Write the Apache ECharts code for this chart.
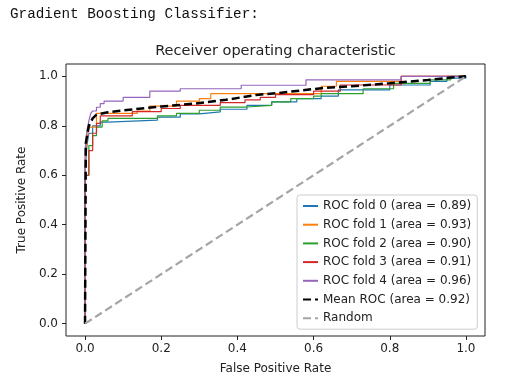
<!DOCTYPE html>
<html>
<head>
<meta charset="utf-8">
<script src="https://cdn.jsdelivr.net/npm/echarts@6/dist/echarts.min.js"></script>
<style>
html,body{margin:0;padding:0;background:#fff;}
#chart{width:515px;height:391px;}
</style>
</head>
<body>
<div id="chart"></div>
<script>
var xTicks = [0, 0.2, 0.4, 0.6, 0.8, 1.0];
var yTicks = [0, 0.2, 0.4, 0.6, 0.8, 1.0];

var foldNames = [
  'ROC fold 0 (area = 0.89)',
  'ROC fold 1 (area = 0.93)',
  'ROC fold 2 (area = 0.90)',
  'ROC fold 3 (area = 0.91)',
  'ROC fold 4 (area = 0.96)'
];
var meanName = 'Mean ROC (area = 0.92)';
var randomName = 'Random';

var fold0 = [[0,0],[0,0.62],[0.005,0.72],[0.01,0.77],[0.02,0.80],[0.04,0.815],[0.06,0.823],[0.19,0.835],[0.25,0.848],[0.30,0.856],[0.355,0.867],[0.425,0.883],[0.49,0.897],[0.556,0.91],[0.62,0.92],[0.665,0.945],[0.80,0.965],[0.906,0.98],[0.95,0.993],[1.0,1.0]];
var fold1 = [[0,0],[0,0.65],[0.005,0.74],[0.01,0.795],[0.03,0.85],[0.137,0.86],[0.17,0.88],[0.24,0.90],[0.30,0.91],[0.33,0.93],[0.62,0.96],[0.66,0.98],[0.83,1.0],[1.0,1.0]];
var fold2 = [[0,0],[0,0.60],[0.01,0.72],[0.02,0.76],[0.03,0.795],[0.045,0.82],[0.06,0.83],[0.19,0.84],[0.24,0.85],[0.30,0.863],[0.355,0.876],[0.425,0.883],[0.49,0.897],[0.54,0.91],[0.60,0.92],[0.62,0.93],[0.73,0.95],[0.81,0.972],[0.906,0.986],[0.96,1.0],[1.0,1.0]];
var fold3 = [[0,0],[0,0.60],[0.01,0.70],[0.02,0.77],[0.03,0.81],[0.04,0.84],[0.124,0.857],[0.20,0.87],[0.25,0.883],[0.355,0.894],[0.42,0.905],[0.46,0.915],[0.50,0.926],[0.60,0.94],[0.67,0.965],[0.83,1.0],[1.0,1.0]];
var fold4 = [[0,0],[0,0.70],[0.005,0.78],[0.01,0.82],[0.015,0.85],[0.02,0.86],[0.03,0.875],[0.04,0.89],[0.05,0.90],[0.10,0.915],[0.17,0.94],[0.25,0.95],[0.41,0.964],[0.58,0.986],[0.83,1.0],[1.0,1.0]];
var meanRoc = [[0,0],[0.002,0.73],[0.01,0.80],[0.02,0.83],[0.03,0.845],[0.06,0.855],[0.11,0.864],[0.20,0.878],[0.29,0.89],[0.37,0.905],[0.41,0.915],[0.45,0.925],[0.51,0.933],[0.62,0.952],[0.70,0.96],[0.80,0.972],[0.90,0.985],[0.96,0.995],[1.0,1.0]];
var randomLine = [[0,0],[1,1]];

var foldColors = ['#1f77b4','#ff7f0e','#2ca02c','#d62728','#9467bd'];
var folds = [fold0, fold1, fold2, fold3, fold4];

var chart = echarts.init(document.getElementById('chart'), null, {renderer:'canvas'});
var FONT = 'DejaVu Sans';

var series = [];
folds.forEach(function(d, i){
  series.push({
    name: foldNames[i], type:'line', data:d, step:'end',
    symbol:'none', showSymbol:false, animation:false,
    lineStyle:{color:foldColors[i], width:1.2},
    itemStyle:{color:foldColors[i]}
  });
});
series.push({
  name: meanName, type:'line', data:meanRoc, symbol:'none', showSymbol:false, animation:false,
  lineStyle:{color:'#000', width:2.5, type:[8,4]}, itemStyle:{color:'#000'}
});
series.push({
  name: randomName, type:'line', data:randomLine, symbol:'none', showSymbol:false, animation:false,
  lineStyle:{color:'#a5a5a5', width:2.2, type:[8,4]}, itemStyle:{color:'#a5a5a5'}
});

var fmt = function(v){ return Number(v).toFixed(1); };

chart.setOption({
  backgroundColor:'#fff',
  animation:false,
  grid:{left:66, right:30, top:64, bottom:55, show:true, borderColor:'#222', borderWidth:1, backgroundColor:'transparent'},
  xAxis:{
    type:'value', min:-0.05, max:1.05,
    name:'False Positive Rate', nameLocation:'middle', nameGap:27,
    nameTextStyle:{fontFamily:FONT, fontSize:12, color:'#222', verticalAlign:'top'},
    axisLine:{show:false, onZero:false},
    axisTick:{show:true, inside:false, length:4, lineStyle:{color:'#222'}, customValues:xTicks},
    axisLabel:{fontFamily:FONT, fontSize:12, color:'#222', margin:7, customValues:xTicks, formatter:fmt},
    splitLine:{show:false}
  },
  yAxis:{
    type:'value', min:-0.05, max:1.05,
    name:'True Positive Rate', nameLocation:'middle', nameGap:38, nameRotate:90,
    nameTextStyle:{fontFamily:FONT, fontSize:12, color:'#222'},
    axisLine:{show:false, onZero:false},
    axisTick:{show:true, inside:false, length:4, lineStyle:{color:'#222'}, customValues:yTicks},
    axisLabel:{fontFamily:FONT, fontSize:12, color:'#222', margin:8, customValues:yTicks, formatter:fmt},
    splitLine:{show:false}
  },
  legend:{
    orient:'vertical', left:297, top:195,
    padding:[5,6,5,5], itemGap:6.7, itemWidth:15, itemHeight:12,
    backgroundColor:'rgba(255,255,255,0.85)', borderColor:'#ccc', borderWidth:1, borderRadius:3,
    textStyle:{fontFamily:FONT, fontSize:12, color:'#222'},
    itemStyle:{opacity:0},
    data: foldNames.concat([meanName, randomName])
  },
  graphic:[
    {type:'text', left:10, top:7, style:{text:'Gradient Boosting Classifier:', font:'14.3px "Liberation Mono", monospace', fill:'#111'}},
    {type:'text', x:275.5, y:51, style:{text:'Receiver operating characteristic', font:'14.5px "DejaVu Sans"', fill:'#222', textAlign:'center', textVerticalAlign:'middle'}}
  ],
  series:series
});
</script>
</body>
</html>
